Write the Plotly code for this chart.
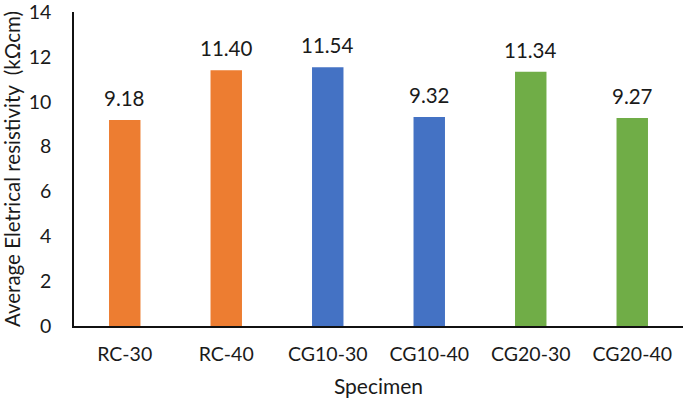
import plotly.graph_objects as go

categories = ["RC-30", "RC-40", "CG10-30", "CG10-40", "CG20-30", "CG20-40"]
values = [9.18, 11.40, 11.54, 9.32, 11.34, 9.27]
colors = ["#ED7D31", "#ED7D31", "#4472C4", "#4472C4", "#70AD47", "#70AD47"]
y_ticks = [0, 2, 4, 6, 8, 10, 12, 14]

FONT = "Lato, 'Open Sans', sans-serif"
TXT = "#1a1a1a"

fig = go.Figure(go.Bar(x=categories, y=values, marker=dict(color=colors, line=dict(width=0)),
                       showlegend=False, hoverinfo="skip"))

for c, v in zip(categories, values):
    fig.add_annotation(x=c, y=v, text=f"{v:.2f}", showarrow=False, yanchor="middle",
                       yshift=22, font=dict(family=FONT, size=20.5, color=TXT))

fig.update_layout(
    width=685, height=400,
    margin=dict(l=74, r=2, t=12, b=74),
    paper_bgcolor="white", plot_bgcolor="white",
    bargap=0.69,
    font=dict(family=FONT, color=TXT),
    xaxis=dict(showline=True, linecolor="#111", linewidth=1.5, showgrid=False, automargin=False,
               ticks="", tickfont=dict(size=19.5, color=TXT), ticklabelstandoff=10,
               ticklabeloverflow="allow",
               title=dict(text="Specimen", font=dict(size=21, color=TXT), standoff=15)),
    yaxis=dict(range=[0, 14], tickvals=y_ticks, showline=True, linecolor="#111", linewidth=1.5,
               showgrid=False, zeroline=False, ticks="", tickfont=dict(size=19.5, color=TXT),
               ticklabelstandoff=17, automargin=False, ticklabeloverflow="allow",
               title=dict(text="Average Eletrical resistivity\u00a0 (kΩcm)", font=dict(size=20.5, color=TXT),
                          standoff=5)),
)

fig.write_html("out.html", config={"displayModeBar": False},
               post_script="document.body.style.margin='0';")
